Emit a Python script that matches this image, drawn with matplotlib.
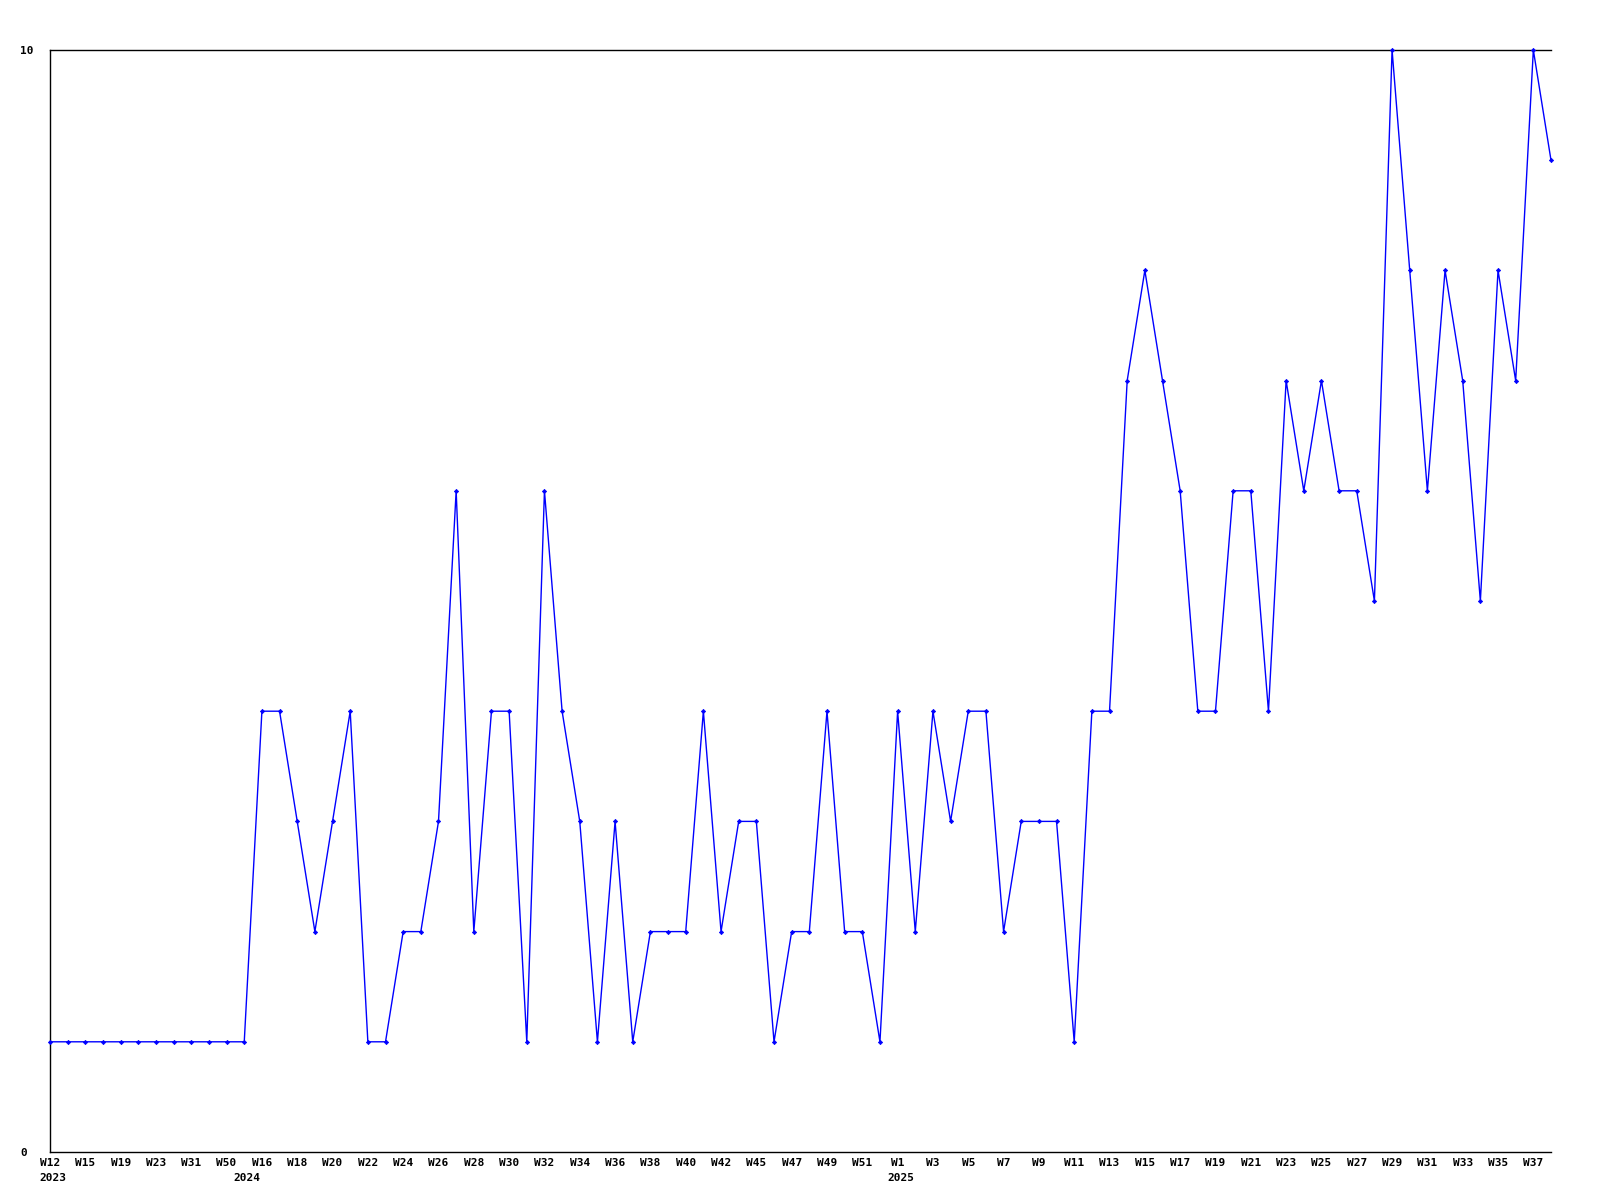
import matplotlib
matplotlib.use("Agg")
import matplotlib.pyplot as plt
from matplotlib.transforms import ScaledTranslation, blended_transform_factory

# Week labels per year (only weeks with data are shown)
weeks_2023 = ["W12", "W13", "W15", "W17", "W19", "W21", "W23", "W27", "W31", "W40", "W50"]
weeks_2024 = ["W10"] + ["W%d" % w for w in range(16, 53) if w != 44]
weeks_2025 = ["W%d" % w for w in range(1, 39)]
year_names = ["2023", "2024", "2025"]
weeks = weeks_2023 + weeks_2024 + weeks_2025

values = [
    # 2023
    1, 1, 1, 1, 1, 1, 1, 1, 1, 1, 1,
    # 2024
    1,
    4, 4, 3, 2, 3, 4, 1, 1, 2, 2, 3, 6, 2, 4, 4, 1, 6, 4, 3, 1, 3, 1, 2, 2, 2, 4, 2, 3,
    3, 1, 2, 2, 4, 2, 2, 1,
    # 2025 W1..W38
    4, 2, 4, 3, 4, 4, 2, 3, 3, 3, 1, 4, 4, 7, 8, 7, 6, 4, 4, 6, 6, 4, 7, 6, 7, 6, 6, 5,
    10, 8, 6, 8, 7, 5, 8, 7, 10, 9,
]

fig = plt.figure(figsize=(16, 12), dpi=100)
ax = fig.add_axes([50 / 1600, 1 - 1152 / 1200, 1501 / 1600, (1152 - 50) / 1200])

x = list(range(len(values)))
ax.plot(x, values, color="#0000ff", linewidth=1.0, marker="D", markersize=2.2,
        markeredgewidth=0.5, clip_on=False, zorder=3)

ax.set_xlim(0, len(values) - 1)
ax.set_ylim(0, 10)

font = dict(fontfamily="DejaVu Sans Mono", fontweight="bold", fontsize=8)

# x tick labels every other point
tick_pos = x[::2]
ax.set_xticks(tick_pos)
ax.set_xticklabels([weeks[i] for i in tick_pos], ha="center", **font)

# year labels under the first point of each year
year_starts = [0, len(weeks_2023), len(weeks_2023) + len(weeks_2024)]
trans = blended_transform_factory(ax.transData, ax.transAxes)
shift = ScaledTranslation(3 / 100, -26 / 100, fig.dpi_scale_trans)
for pos, name in zip(year_starts, year_names):
    ax.text(pos, 0, name, transform=trans + shift, ha="center", va="center",
            clip_on=False, **font)

ax.set_yticks([0, 10])
ax.set_yticklabels(["0", "10"], **font)
for lab in ax.get_yticklabels():
    lab.set_ha("left")

ax.tick_params(axis="x", length=0, pad=4.5)
ax.tick_params(axis="y", length=0, pad=21.5)

ax.spines["right"].set_visible(False)
for s in ["left", "top", "bottom"]:
    ax.spines[s].set_color("black")
    ax.spines[s].set_linewidth(1.0)

fig.savefig("out.png", dpi=100, facecolor="white")
